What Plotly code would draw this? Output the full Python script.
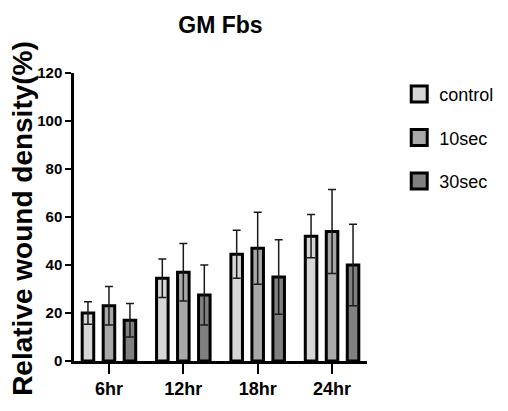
import plotly.graph_objects as go

categories = ["6hr", "12hr", "18hr", "24hr"]
series_names = ["control", "10sec", "30sec"]
control_vals = [20, 34.5, 44.5, 52]
control_err = [4.7, 8, 10, 9]
sec10_vals = [23, 37, 47, 54]
sec10_err = [8, 12, 15, 17.5]
sec30_vals = [17, 27.5, 35, 40]
sec30_err = [7, 12.5, 15.5, 17]
y_ticks = [0, 20, 40, 60, 80, 100, 120]
colors = ["#d6d6d6", "#a8a8a8", "#808080"]

font = "Liberation Sans, Arial, Helvetica"
fig = go.Figure()
for i, (name, vals, errs) in enumerate(zip(series_names, [control_vals, sec10_vals, sec30_vals],
                                           [control_err, sec10_err, sec30_err])):
    fig.add_trace(go.Bar(
        x=categories, y=vals, name=name, legendgroup=name, showlegend=False,
        marker=dict(color=colors[i], line=dict(color="black", width=3)),
        error_y=dict(type="data", array=errs, visible=True, color="#1a1a1a", thickness=1.5, width=4),
    ))
    # legend entry (larger square symbol like the reference)
    fig.add_trace(go.Scatter(
        x=[None], y=[None], mode="markers", name=name, legendgroup=name,
        marker=dict(symbol="square", size=16, color=colors[i], line=dict(color="black", width=3)),
    ))

fig.update_layout(
    width=508, height=411,
    margin=dict(l=74, r=141, t=73, b=50, autoexpand=False),
    plot_bgcolor="white", paper_bgcolor="white",
    barmode="group", bargap=0.153, bargroupgap=0.45,
    title=dict(text="<b>GM Fbs</b>", x=0.434, xanchor="center", y=0.94, yanchor="middle",
               font=dict(family=font, size=23, color="black")),
    xaxis=dict(type="category", range=[-0.47, 3.47], showline=True, linecolor="black", linewidth=2.5,
               ticks="outside", ticklen=10, tickwidth=2, tickcolor="black",
               tickfont=dict(family=font, size=18, color="black"),
               tickvals=categories, ticktext=["<b>%s</b>" % c for c in categories]),
    yaxis=dict(range=[0, 120], tickvals=y_ticks,
               ticktext=["<b>%d</b>" % v for v in y_ticks],
               showline=True, linecolor="black", linewidth=2.5, showgrid=False, zeroline=False,
               ticks="outside", ticklen=6, tickwidth=2, tickcolor="black",
               tickfont=dict(family=font, size=15, color="black")),
    legend=dict(x=1.11, y=0.99, xanchor="left", yanchor="top", tracegroupgap=17,
                font=dict(family=font, size=18, color="black"), bgcolor="rgba(0,0,0,0)"),
    annotations=[dict(text="<b>Relative wound density(%)</b>", textangle=-90,
                      xref="paper", yref="paper", x=-0.176, y=0.495,
                      xanchor="center", yanchor="middle", showarrow=False,
                      font=dict(family=font, size=28, color="black"))],
)
fig.write_html("out.html", config={"displayModeBar": False},
               post_script="document.body.style.margin='0';")
